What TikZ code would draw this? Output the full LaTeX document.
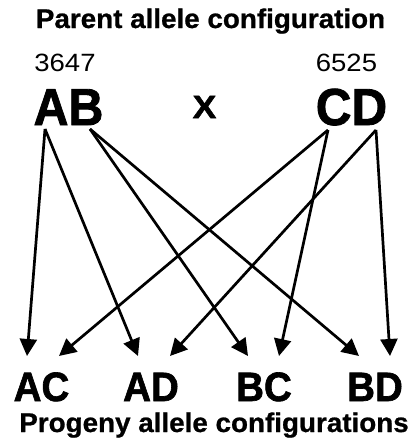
\documentclass[tikz,border=0pt]{standalone}
\usepackage{fontspec}
\usepackage{graphicx}
\setmainfont{Liberation Sans}
\newfontfamily\headfont{Liberation Sans}[BoldFeatures={FakeBold=0.8}]
\newfontfamily\letterfont{Liberation Sans}[BoldFeatures={FakeBold=1.6}]
\usetikzlibrary{arrows.meta}

\tikzset{
  heading/.style={anchor=base, inner sep=0pt,
    font=\headfont\fontsize{27}{32}\selectfont\bfseries},
  strain/.style={anchor=base, inner sep=0pt,
    font=\fontsize{25}{30}\selectfont},
  parent/.style={anchor=base, inner sep=0pt,
    font=\letterfont\fontsize{52}{60}\selectfont\bfseries},
  progeny/.style={anchor=base, inner sep=0pt,
    font=\letterfont\fontsize{41}{48}\selectfont\bfseries},
  cross/.style={anchor=base, inner sep=0pt,
    font=\letterfont\fontsize{32}{38}\selectfont\bfseries},
  inherit/.style={line width=2.7pt,
    -{Triangle[length=17pt,width=17pt]}},
}

\begin{document}
\begin{tikzpicture}[x=1pt,y=-1pt]
  \useasboundingbox (0,0) rectangle (414,447);

  % headings
  \node[heading] (top) at (210.5,28) {\scalebox{1.03}[1]{Parent allele configuration}};
  \node[heading] (bottom) at (214,432) {\scalebox{1.03}[1]{Progeny allele configurations}};

  % parents
  \node[strain] (n1) at (65,71) {\scalebox{1.1}[1]{3647}};
  \node[strain] (n2) at (346.5,71) {\scalebox{1.1}[1]{6525}};
  \node[parent] (AB) at (68.5,125) {\scalebox{0.93}[1]{AB}};
  \node[parent] (CD) at (351.5,125) {\scalebox{0.95}[1]{CD}};
  \node[cross] (x) at (204.5,118) {\scalebox{1.1}[1]{X}};

  % progeny
  \node[progeny] (AC) at (41.5,401) {\scalebox{0.94}[1]{AC}};
  \node[progeny] (AD) at (151,401) {\scalebox{0.94}[1]{AD}};
  \node[progeny] (BC) at (264,401) {\scalebox{0.94}[1]{BC}};
  \node[progeny] (BD) at (375,401) {\scalebox{0.94}[1]{BD}};

  % allele origins under the parent letters
  \coordinate (A) at (45,129);
  \coordinate (B) at (90,129);
  \coordinate (C) at (328,130);
  \coordinate (D) at (376,130);

  % arrow tips above the progeny
  \coordinate (AC-a) at (27,356);
  \coordinate (AC-c) at (59,356);
  \coordinate (AD-a) at (138,356);
  \coordinate (AD-d) at (170,356);
  \coordinate (BC-b) at (248,356);
  \coordinate (BC-c) at (279,356);
  \coordinate (BD-b) at (359,356);
  \coordinate (BD-d) at (390,356);

  \draw[inherit] (A) -- (AC-a);
  \draw[inherit] (A) -- (AD-a);
  \draw[inherit] (B) -- (BC-b);
  \draw[inherit] (B) -- (BD-b);
  \draw[inherit] (C) -- (AC-c);
  \draw[inherit] (C) -- (BC-c);
  \draw[inherit] (D) -- (AD-d);
  \draw[inherit] (D) -- (BD-d);
\end{tikzpicture}
\end{document}
